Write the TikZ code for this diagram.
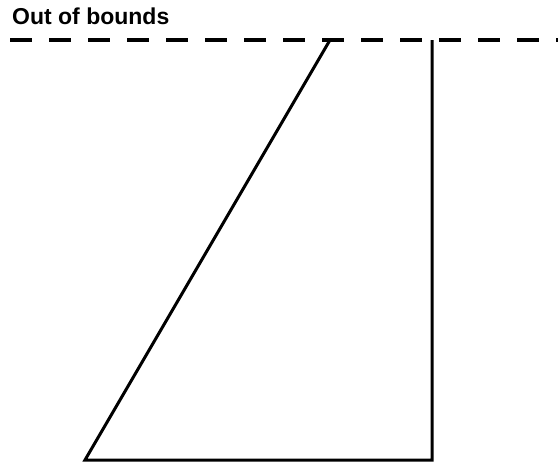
\documentclass[tikz,border=0pt]{standalone}
\usepackage{fontspec}
\setmainfont{Liberation Sans}
\begin{document}
\begin{tikzpicture}[x=1pt,y=-1pt,
  boundary/.style={line width=3.2pt,dash pattern=on 22pt off 17pt},
  outline/.style={line width=3pt,line join=miter},
  label/.style={anchor=base west,inner sep=0pt,font=\fontsize{23}{26}\selectfont\bfseries}]
\useasboundingbox (0,0) rectangle (558,463);
\node[label] (title) at (12,24) {Out of bounds};
\coordinate (bl) at (10,40);
\coordinate (br) at (558,40);
\draw[boundary] (bl) -- (br);
\coordinate (a) at (330,40);
\coordinate (b) at (85,460);
\coordinate (c) at (432,460);
\coordinate (d) at (432,40);
\draw[outline] (a) -- (b) -- (c) -- (d);
\end{tikzpicture}
\end{document}
